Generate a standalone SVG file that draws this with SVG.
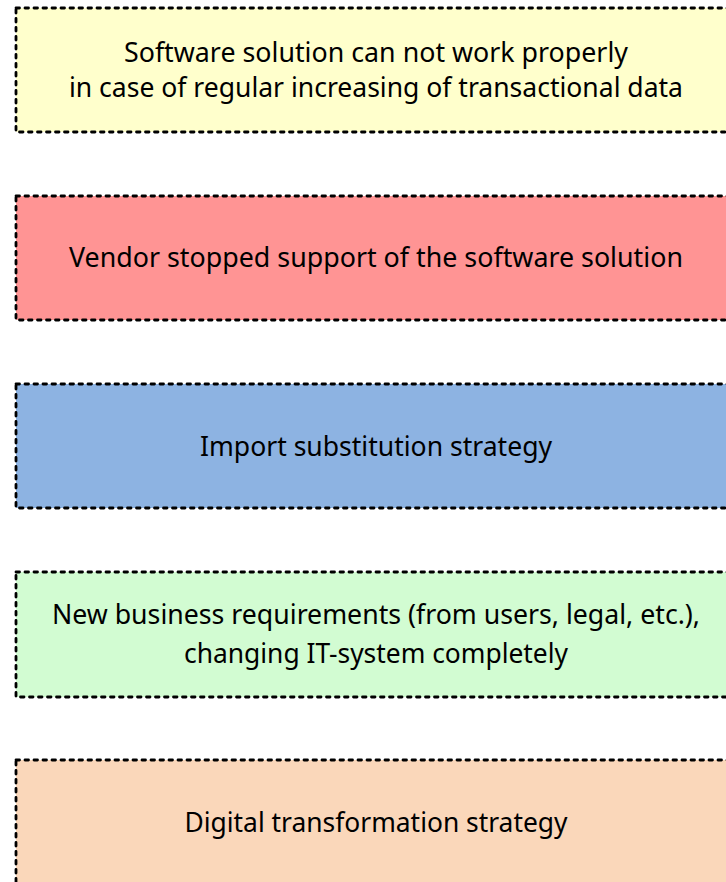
<svg xmlns="http://www.w3.org/2000/svg" width="726" height="882" viewBox="0 0 726 882">
<style>
.box{stroke:#000;stroke-width:2.8;stroke-dasharray:3.5 5.5;stroke-linecap:round}
.t{font-family:"Noto Sans","Open Sans","Liberation Sans",sans-serif;font-size:28px;fill:#000;text-anchor:middle}
</style>
<rect width="726" height="882" fill="#fff"/>
<g id="connectors"></g>
<g id="node1">
<rect class="box" x="16" y="8" width="720" height="124" fill="#FFFFCC"/>
<text class="t" x="376" y="62" textLength="504" lengthAdjust="spacingAndGlyphs">Software solution can not work properly</text>
<text class="t" x="376" y="97" textLength="614" lengthAdjust="spacingAndGlyphs">in case of regular increasing of transactional data</text>
</g>
<g id="node2">
<rect class="box" x="16" y="196" width="720" height="124" fill="#FF9494"/>
<text class="t" x="376" y="267" textLength="614" lengthAdjust="spacingAndGlyphs">Vendor stopped support of the software solution</text>
</g>
<g id="node3">
<rect class="box" x="16" y="384" width="720" height="124" fill="#8DB3E2"/>
<text class="t" x="376" y="456" textLength="352" lengthAdjust="spacingAndGlyphs">Import substitution strategy</text>
</g>
<g id="node4">
<rect class="box" x="16" y="572" width="720" height="125" fill="#D2FCD2"/>
<text class="t" x="376" y="624" textLength="648" lengthAdjust="spacingAndGlyphs">New business requirements (from users, legal, etc.),</text>
<text class="t" x="376" y="663" textLength="384" lengthAdjust="spacingAndGlyphs">changing IT-system completely</text>
</g>
<g id="node5">
<rect class="box" x="16" y="760" width="720" height="124" fill="#FAD7BA"/>
<text class="t" x="376" y="832" textLength="383" lengthAdjust="spacingAndGlyphs">Digital transformation strategy</text>
</g>
</svg>
